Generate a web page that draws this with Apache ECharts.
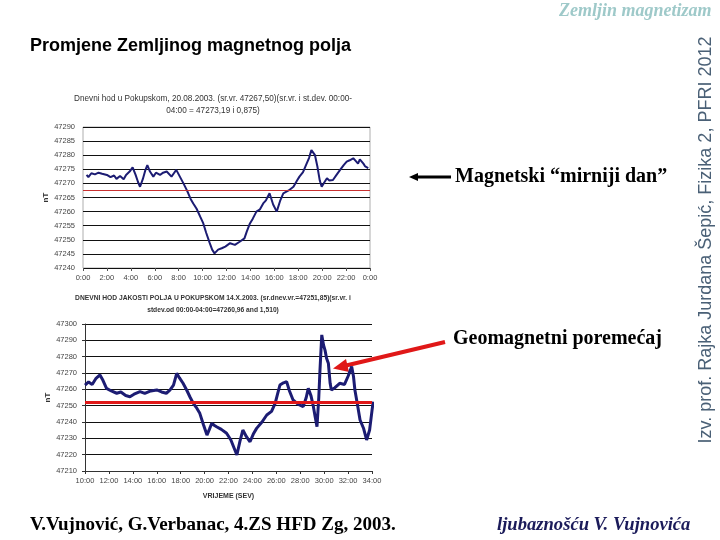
<!DOCTYPE html>
<html><head><meta charset="utf-8">
<script src="https://cdn.jsdelivr.net/npm/echarts@6/dist/echarts.min.js"></script>
<style>html,body{margin:0;padding:0;background:#fff}#c{width:720px;height:540px}</style>
</head><body><div id="c"></div>
<script>
// ---- data ----
const topXLabels = ['0:00','2:00','4:00','6:00','8:00','10:00','12:00','14:00','16:00','18:00','20:00','22:00','0:00'];
const bottomXLabels = ['10:00','12:00','14:00','16:00','18:00','20:00','22:00','24:00','26:00','28:00','30:00','32:00','34:00'];
const topMean = 47267.5;
const bottomMean = 47251.85;
// quiet day 20.08.2003 : [hour, nT]
const quietDay = [[0.3,47273],[0.45,47272.2],[0.7,47273.6],[1.0,47273.2],[1.3,47273.8],[1.6,47273.4],[2.0,47273],[2.3,47272.2],[2.6,47272.8],[2.8,47271.6],[3.1,47272.6],[3.4,47271.5],[3.6,47273],[3.9,47274.2],[4.15,47275.7],[4.4,47273],[4.6,47270.5],[4.77,47268.8],[5.0,47271.5],[5.2,47274.5],[5.38,47276.5],[5.6,47274.2],[5.88,47272.4],[6.1,47273.8],[6.44,47273],[6.7,47273.8],[7.0,47274.2],[7.13,47274.8],[7.4,47272.4],[7.6,47273.6],[7.8,47274.8],[8.0,47273.2],[8.1,47272.6],[8.4,47270],[8.67,47267.7],[8.8,47266.5],[9.0,47264.5],[9.22,47262.9],[9.5,47261],[9.8,47258.2],[10.06,47255.8],[10.3,47252.5],[10.6,47248.8],[10.8,47246.5],[11.0,47245.2],[11.3,47246.5],[11.6,47247],[11.9,47247.6],[12.3,47248.8],[12.7,47248.2],[13.1,47249.3],[13.5,47250.5],[13.7,47253],[13.96,47255.8],[14.2,47257.5],[14.5,47260],[14.8,47260.8],[15.07,47262.9],[15.3,47264],[15.6,47266.5],[15.9,47262.5],[16.2,47260],[16.5,47264],[16.75,47266.5],[17.2,47267.5],[17.6,47268.8],[17.9,47271],[18.1,47272.4],[18.4,47274],[18.7,47277],[18.9,47279],[19.1,47281.8],[19.4,47280],[19.6,47276],[19.8,47271],[19.96,47268.8],[20.2,47270.5],[20.4,47271.8],[20.6,47271],[20.9,47271.2],[21.2,47273],[21.5,47274.8],[21.8,47276.5],[22.05,47277.7],[22.3,47278.2],[22.6,47278.9],[22.8,47278],[23.0,47277],[23.15,47278.5],[23.3,47278.9],[23.45,47277],[23.6,47276],[23.85,47275.4]];
// disturbed day 14.X.2003 : [hours from start, nT]
const disturbedDay = [[0,47262.6],[0.3,47264.5],[0.6,47263],[0.9,47266.5],[1.25,47268.8],[1.5,47265.5],[1.8,47260.6],[2.2,47259],[2.65,47257.6],[3.0,47258.4],[3.4,47256.2],[3.76,47255.5],[4.1,47257],[4.6,47258.6],[5.0,47257.5],[5.5,47259],[6.0,47259.6],[6.4,47258.4],[6.8,47257.6],[7.1,47259.5],[7.4,47262.6],[7.67,47269.8],[7.9,47267],[8.2,47263.7],[8.5,47259.6],[8.8,47255],[9.06,47251.4],[9.3,47249],[9.6,47245.3],[9.9,47238.5],[10.2,47232],[10.4,47235.5],[10.6,47239.2],[10.8,47238],[11.0,47237.1],[11.4,47235.5],[11.84,47233.1],[12.2,47229],[12.5,47223.5],[12.7,47219.8],[12.95,47228],[13.2,47235.1],[13.5,47231],[13.8,47227.9],[14.1,47233],[14.35,47236.1],[14.8,47240],[15.2,47244.3],[15.6,47246.5],[15.9,47251.4],[16.1,47257],[16.3,47262.6],[16.6,47264],[16.86,47264.7],[17.1,47259],[17.4,47253.5],[17.8,47251],[18.25,47249.4],[18.5,47255],[18.67,47260.6],[18.9,47256],[19.1,47249.4],[19.25,47243],[19.4,47237.1],[19.55,47255],[19.65,47271.8],[19.8,47293.3],[19.95,47287],[20.07,47284],[20.2,47279],[20.35,47276],[20.5,47263.7],[20.6,47259.6],[20.9,47261],[21.3,47263.7],[21.7,47263],[22.0,47268],[22.3,47273.9],[22.45,47268],[22.57,47259.6],[22.8,47250],[23.0,47241.2],[23.3,47236],[23.55,47229],[23.8,47235.1],[24.0,47247],[24.1,47252.4]];

const chart = echarts.init(document.getElementById('c'), null, {renderer:'canvas'});
const lab = {fontSize:7.5, color:'#444', fontFamily:'Liberation Sans'};
option = {
  animation:false,
  backgroundColor:'#fff',
  title:[
    {text:'Dnevni hod u Pokupskom, 20.08.2003. (sr.vr. 47267,50)(sr.vr. i st.dev. 00:00-\n04:00 = 47273,19 i 0,875)',
     left:208, top:88, textAlign:'center',
     textStyle:{fontSize:8.2, fontWeight:'normal', color:'#333', lineHeight:12, fontFamily:'Liberation Sans'}},
    {text:'DNEVNI HOD JAKOSTI POLJA U POKUPSKOM 14.X.2003. (sr.dnev.vr.=47251,85)(sr.vr. i\nstdev.od 00:00-04:00=47260,96 and 1,510)',
     left:208, top:287, textAlign:'center',
     textStyle:{fontSize:6.7, fontWeight:'bold', color:'#333', lineHeight:12, fontFamily:'Liberation Sans'}}
  ],
  grid:[
    {left:83, top:127, width:287, height:141, show:true, borderColor:'#999', borderWidth:0.8},
    {left:85, top:324, width:287, height:147}
  ],
  xAxis:[
    {gridIndex:0, type:'value', min:0, max:24, interval:2,
     axisLine:{show:false}, axisTick:{show:true, length:3, lineStyle:{color:'#555'}},
     splitLine:{show:false},
     axisLabel:{...lab, margin:6, formatter:v=>topXLabels[Math.round(v/2)]}},
    {gridIndex:1, type:'value', min:0, max:24, interval:2,
     axisLine:{show:true, onZero:false, lineStyle:{color:'#333', width:1}},
     axisTick:{show:true, length:3, lineStyle:{color:'#333'}},
     splitLine:{show:false},
     name:'VRIJEME (SEV)', nameLocation:'middle', nameGap:22,
     nameTextStyle:{fontSize:7, fontWeight:'bold', color:'#333', fontFamily:'Liberation Sans'},
     axisLabel:{...lab, margin:6, formatter:v=>bottomXLabels[Math.round(v/2)]}}
  ],
  yAxis:[
    {gridIndex:0, type:'value', min:47240, max:47290, interval:5,
     axisLine:{show:false}, axisTick:{show:false},
     splitLine:{show:true, lineStyle:{color:'#111', width:1}},
     name:'nT', nameLocation:'middle', nameRotate:90, nameGap:28,
     nameTextStyle:{fontSize:8, fontWeight:'bold', color:'#333'},
     axisLabel:{...lab, margin:8, formatter:v=>String(v)}},
    {gridIndex:1, type:'value', min:47210, max:47300, interval:10,
     axisLine:{show:true, lineStyle:{color:'#333', width:1}}, axisTick:{show:true, length:3, lineStyle:{color:'#333'}},
     splitLine:{show:true, lineStyle:{color:'#111', width:1}},
     name:'nT', nameLocation:'middle', nameRotate:90, nameGap:30,
     nameTextStyle:{fontSize:8, fontWeight:'bold', color:'#333'},
     axisLabel:{...lab, margin:8, formatter:v=>String(v)}}
  ],
  series:[
    {type:'line', xAxisIndex:0, yAxisIndex:0, data:quietDay, showSymbol:false, smooth:false,
     lineStyle:{color:'#1c1c73', width:2}, z:3,
     markLine:{silent:true, symbol:'none', label:{show:false},
       lineStyle:{color:'#c83030', width:1, type:'solid'}, data:[{yAxis:topMean}]}},
    {type:'line', xAxisIndex:1, yAxisIndex:1, data:disturbedDay, showSymbol:false, smooth:false,
     lineStyle:{color:'#1c1c73', width:3}, z:3,
     markLine:{silent:true, symbol:'none', label:{show:false},
       lineStyle:{color:'#e01818', width:3, type:'solid'}, data:[{yAxis:bottomMean}]}}
  ],
  graphic:[
    {type:'text', left:559, top:2, style:{text:'Zemljin magnetizam', fill:'#9ec9c9', font:'italic bold 18px "Liberation Serif"'}},
    {type:'text', left:30, top:37, style:{text:'Promjene Zemljinog magnetnog polja', fill:'#000', font:'bold 18px "Liberation Sans"'}},
    {type:'text', x:706, y:240, rotation:Math.PI/2,
     style:{text:'Izv. prof. Rajka Jurdana Šepić, Fizika 2, PFRI 2012', fill:'#4a6076', font:'18px "Liberation Sans"', align:'center', verticalAlign:'middle'}},
    {type:'line', shape:{x1:416, y1:177, x2:451, y2:177}, style:{stroke:'#000', lineWidth:3}},
    {type:'polygon', shape:{points:[[409,177],[418,173],[418,181]]}, style:{fill:'#000'}},
    {type:'text', left:455, top:167, style:{text:'Magnetski “mirniji dan”', fill:'#000', font:'bold 20px "Liberation Serif"'}},
    {type:'line', shape:{x1:445, y1:342, x2:344, y2:366}, style:{stroke:'#e01818', lineWidth:4}},
    {type:'polygon', shape:{points:[[333,368.5],[346,359],[349,372]]}, style:{fill:'#e01818'}},
    {type:'text', left:453, top:329, style:{text:'Geomagnetni poremećaj', fill:'#000', font:'bold 20px "Liberation Serif"'}},
    {type:'text', left:30, top:516, style:{text:'V.Vujnović, G.Verbanac, 4.ZS HFD Zg, 2003.', fill:'#000', font:'bold 19px "Liberation Serif"'}},
    {type:'text', left:497, top:516, style:{text:'ljubaznošću V. Vujnovića', fill:'#1b1b5a', font:'italic bold 18.6px "Liberation Serif"'}}
  ]
};
chart.setOption(option);
</script></body></html>
